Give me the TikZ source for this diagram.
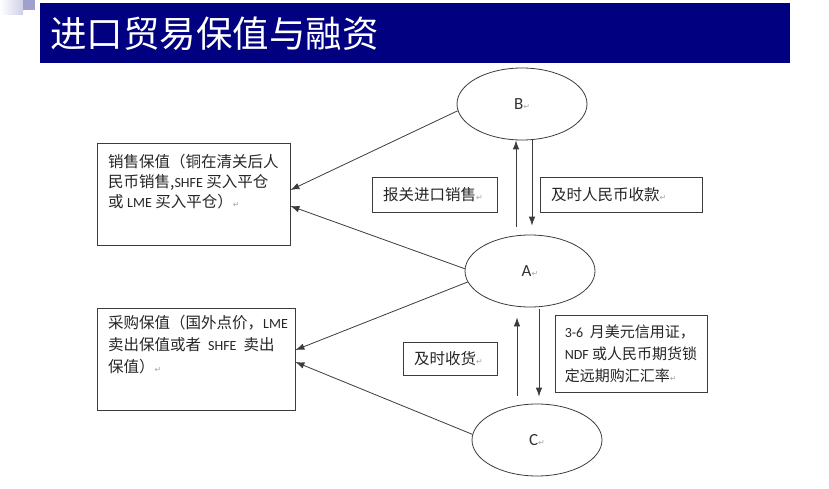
\documentclass[tikz,border=0pt]{standalone}
\usepackage{fontspec}
\setmainfont{Noto Sans CJK SC}
\newfontfamily\latf{Carlito}
\newfontfamily\dvf{DejaVu Sans}
\usetikzlibrary{shapes.geometric,arrows.meta}
\definecolor{navybar}{RGB}{0,0,128}
\definecolor{lavA}{RGB}{206,206,232}
\definecolor{lavB}{RGB}{160,160,206}
\definecolor{linec}{RGB}{60,60,60}
\newcommand\retmark{{\dvf\fontsize{8}{8}\selectfont\color{black!35}↵}}
\newcommand\lt[1]{{\latf\fontsize{14}{14}\selectfont #1}}
\begin{document}
\begin{tikzpicture}[x=1pt,y=-1pt,
  ell/.style={ellipse,draw=linec,line width=0.8pt,minimum width=130pt,minimum height=72pt,inner sep=0pt,
    font=\latf\fontsize{17}{17}\selectfont,text=black!80},
  bigbox/.style={draw=linec,line width=0.8pt,rectangle,inner sep=0pt},
  txt/.style={align=left,inner sep=0pt,text=black!85},
  lblbox/.style={draw=linec,line width=0.8pt,rectangle,inner xsep=11pt,inner ysep=0pt,align=left,
    text=black!85,font=\fontsize{15.5}{22}\selectfont},
  arr/.style={draw=linec,line width=0.8pt,-{Latex[length=9pt,width=6.5pt]}}
]
\useasboundingbox (0,0) rectangle (829,489);
\fill[white] (0,0) rectangle (829,489);
% template decoration
\fill[left color=white,right color=lavA] (0,0) rectangle (23,15);
\fill[lavB] (23,0) rectangle (35,10);
% title bar
\node[fill=navybar,minimum width=750pt,minimum height=60pt,inner sep=0pt,anchor=north west] (bar) at (40,3) {};
\node[anchor=west,text=white,inner sep=0pt,font=\fontsize{36.5}{36.5}\selectfont] (ttl) at (50,34) {进口贸易保值与融资};
% ellipses
\node[ell] (B) at (522,104) {B\retmark};
\node[ell] (A) at (530,271) {A\retmark};
\node[ell] (C) at (537,440) {C\retmark};
% big boxes
\node[bigbox,minimum width=193pt,minimum height=102pt] (b1) at (193.5,194) {};
\node[txt,anchor=west,font=\fontsize{15.5}{20}\selectfont] (t1) at (108,182)
  {销售保值（铜在清关后人\\民币销售,\lt{SHFE} 买入平仓\\或 \lt{LME} 买入平仓）\retmark};
\node[bigbox,minimum width=198pt,minimum height=102pt] (b2) at (196,359) {};
\node[txt,anchor=west,font=\fontsize{15.5}{22}\selectfont] (t2) at (108,345)
  {采购保值（国外点价，\lt{LME}\\卖出保值或者\ \ \lt{SHFE}\ \ 卖出\\保值）\retmark};
% label boxes
\node[lblbox,text width=103pt,minimum height=35pt] (l1) at (434.5,194.5) {报关进口销售\retmark};
\node[lblbox,text width=140pt,minimum height=35pt] (l2) at (621,194.5) {及时人民币收款\retmark};
\node[lblbox,text width=72pt,minimum height=33pt] (l3) at (450,358.5) {及时收货\retmark};
\node[lblbox,inner xsep=0pt,minimum width=152pt,minimum height=77pt,font=\fontsize{15}{22}\selectfont] (l4) at (631,353.5)
  {\lt{3-6}\ \ 月美元信用证，\\\lt{NDF} 或人民币期货锁\\定远期购汇汇率\retmark};
% diagonal arrows
\draw[arr] (B.186) -- ([yshift=4pt]b1.east);
\draw[arr] (A.178) -- ([yshift=-12pt]b1.east);
\draw[arr] (A.190) -- ([yshift=9pt]b2.east);
\draw[arr] (C.175) -- ([yshift=-3pt]b2.east);
% vertical arrows
\coordinate (ab1) at ([xshift=-14pt]A.north);
\coordinate (ab2) at ([xshift=10pt]B.south);
\draw[arr,shorten <=8pt] (ab1) -- (ab1 |- B.south);
\draw[arr,shorten >=9pt] (ab2) -- (ab2 |- A.north);
\coordinate (ac1) at ([xshift=-20pt]C.north);
\coordinate (ac2) at ([xshift=9pt]A.south);
\draw[arr,shorten <=8pt,shorten >=10pt] (ac1) -- (ac1 |- A.south);
\draw[arr,shorten <=2pt,shorten >=7pt] (ac2) -- (ac2 |- C.north);
\end{tikzpicture}
\end{document}
